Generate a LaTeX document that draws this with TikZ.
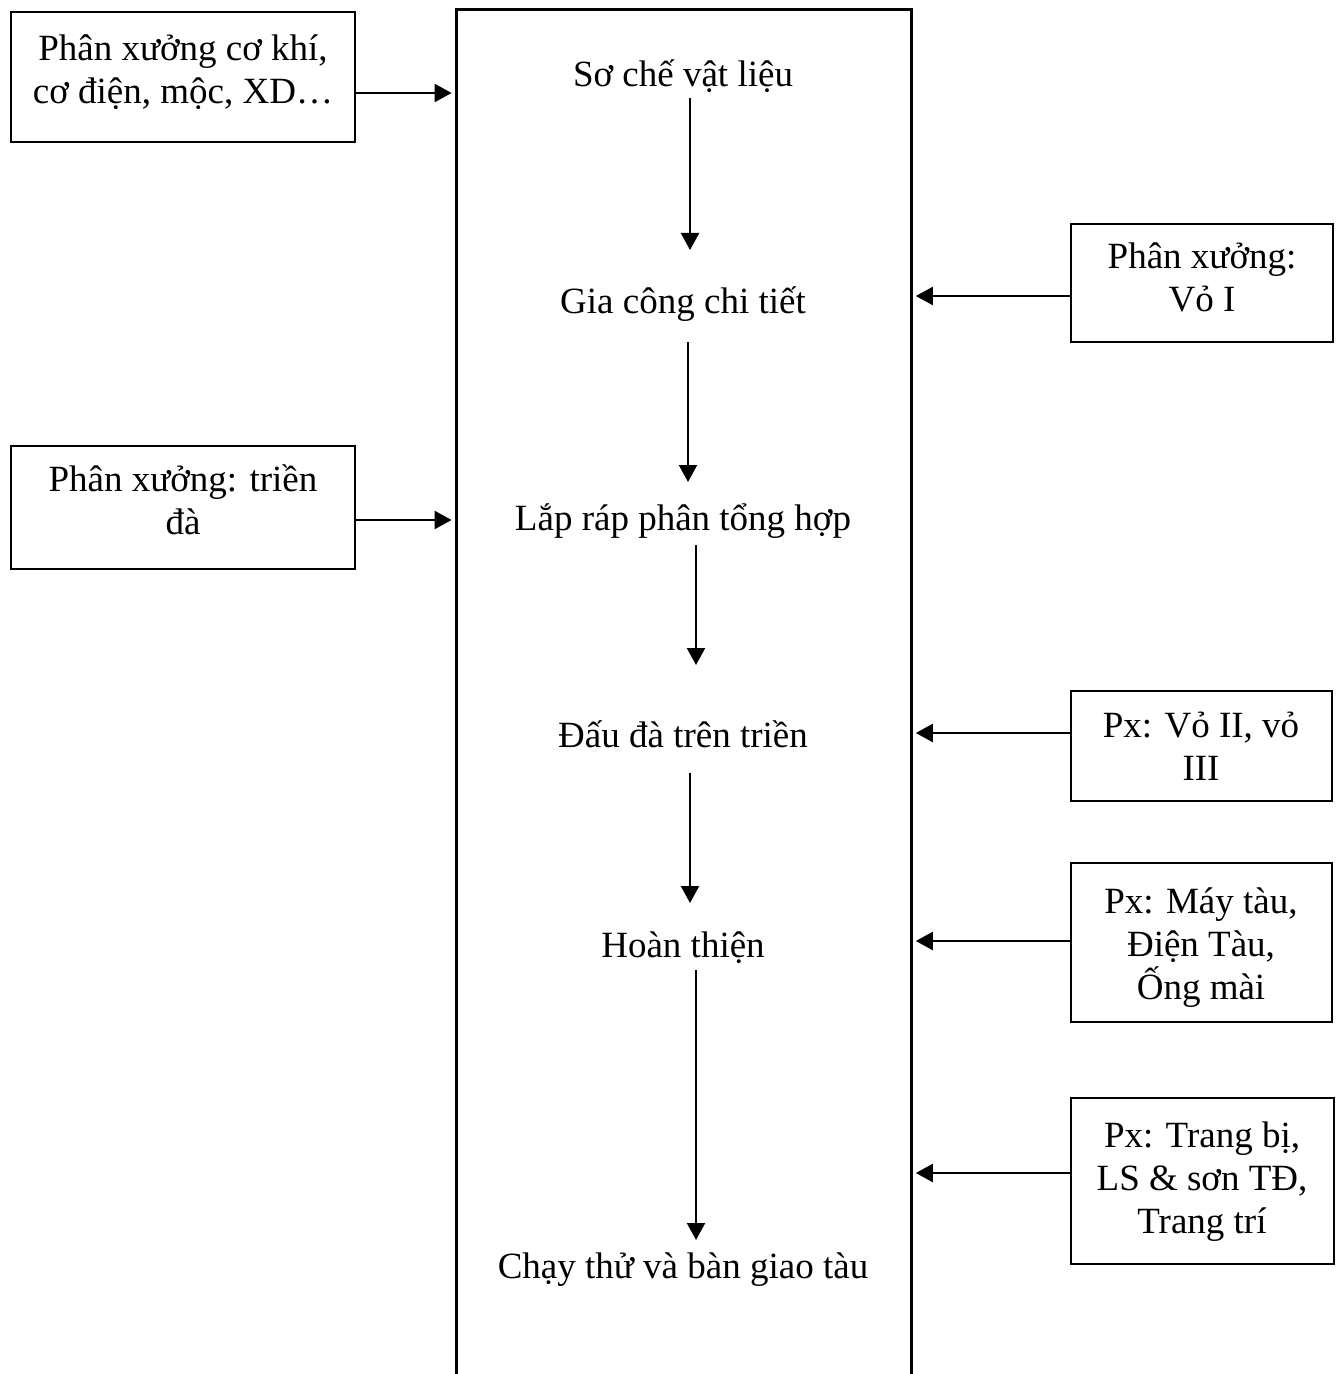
\documentclass[tikz,border=0pt]{standalone}
\usepackage{fontspec}
\setmainfont{Liberation Serif}
\usetikzlibrary{arrows.meta,fit}
\newcommand{\lblfont}{\fontsize{18.5pt}{21.5pt}\selectfont}
\begin{document}
\begin{tikzpicture}[x=0.5pt,y=-0.5pt]
\tikzset{
  box/.style={draw, line width=1.15pt, inner sep=0pt},
  lbl/.style={font=\lblfont, align=center, anchor=base, inner sep=0pt},
  arr/.style={-{Triangle[length=8.5pt,width=9pt]}, line width=1.1pt},
}
\useasboundingbox (0,0) rectangle (1339,1374);

% corner points of the boxes
\coordinate (l1a) at (11,12);    \coordinate (l1b) at (355,142);
\coordinate (l2a) at (11,446);   \coordinate (l2b) at (355,569);
\coordinate (r1a) at (1071,224); \coordinate (r1b) at (1333,342);
\coordinate (r2a) at (1071,691); \coordinate (r2b) at (1332,801);
\coordinate (r3a) at (1071,863); \coordinate (r3b) at (1332,1022);
\coordinate (r4a) at (1071,1098);\coordinate (r4b) at (1334,1264);
\coordinate (pa) at (457,10);    \coordinate (pb) at (911,1374);

% workshops
\node[box, fit=(l1a)(l1b)] (l1) {};
\node[box, fit=(l2a)(l2b)] (l2) {};
\node[box, fit=(r1a)(r1b)] (r1) {};
\node[box, fit=(r2a)(r2b)] (r2) {};
\node[box, fit=(r3a)(r3b)] (r3) {};
\node[box, fit=(r4a)(r4b)] (r4) {};

% labels are placed by the baseline of their last line
\node[lbl] (l1t) at (183,104) {Phân xưởng cơ khí,\\cơ điện, mộc, XD…};
\node[lbl] (l2t) at (183,534) {Phân xưởng: triền\\đà};
\node[lbl] (r1t) at (1202,312) {Phân xưởng:\\Vỏ I};
\node[lbl] (r2t) at (1201,780) {Px: Vỏ II, vỏ\\III};
\node[lbl] (r3t) at (1201,999) {Px: Máy tàu,\\Điện Tàu,\\Ống mài};
\node[lbl] (r4t) at (1202,1233) {Px: Trang bị,\\LS \& sơn TĐ,\\Trang trí};

% process column, open at the bottom
\node[inner sep=0pt, fit=(pa)(pb)] (proc) {};
\draw[line width=1.15pt] (proc.south west) -- (proc.north west) -- (proc.north east) -- (proc.south east);

\node[lbl] (s1) at (683,87) {Sơ chế vật liệu};
\node[lbl] (s2) at (683,314) {Gia công chi tiết};
\node[lbl] (s3) at (683,530) {Lắp ráp phân tổng hợp};
\node[lbl] (s4) at (683,747) {Đấu đà trên triền};
\node[lbl] (s5) at (683,957) {Hoàn thiện};
\node[lbl] (s6) at (683,1278) {Chạy thử và bàn giao tàu};

% step arrows
\coordinate (v1a) at (690,98);   \coordinate (v1b) at (690,250);
\coordinate (v2a) at (688,342);  \coordinate (v2b) at (688,482);
\coordinate (v3a) at (696,545);  \coordinate (v3b) at (696,665);
\coordinate (v4a) at (690,773);  \coordinate (v4b) at (690,903);
\coordinate (v5a) at (696,970);  \coordinate (v5b) at (696,1240);
\draw[arr] (v1a) -- (v1b);
\draw[arr] (v2a) -- (v2b);
\draw[arr] (v3a) -- (v3b);
\draw[arr] (v4a) -- (v4b);
\draw[arr] (v5a) -- (v5b);

% workshop arrows into the column
\coordinate (h1) at (0,93);
\coordinate (h2) at (0,296);
\coordinate (h3) at (0,520);
\coordinate (h4) at (0,733);
\coordinate (h5) at (0,941);
\coordinate (h6) at (0,1173);
\draw[arr, shorten >=2.5pt] (l1.east |- h1) -- (proc.west |- h1);
\draw[arr, shorten >=2.5pt] (l2.east |- h3) -- (proc.west |- h3);
\draw[arr, shorten >=2.2pt] (r1.west |- h2) -- (proc.east |- h2);
\draw[arr, shorten >=2.2pt] (r2.west |- h4) -- (proc.east |- h4);
\draw[arr, shorten >=2.2pt] (r3.west |- h5) -- (proc.east |- h5);
\draw[arr, shorten >=2.2pt] (r4.west |- h6) -- (proc.east |- h6);
\end{tikzpicture}
\end{document}
